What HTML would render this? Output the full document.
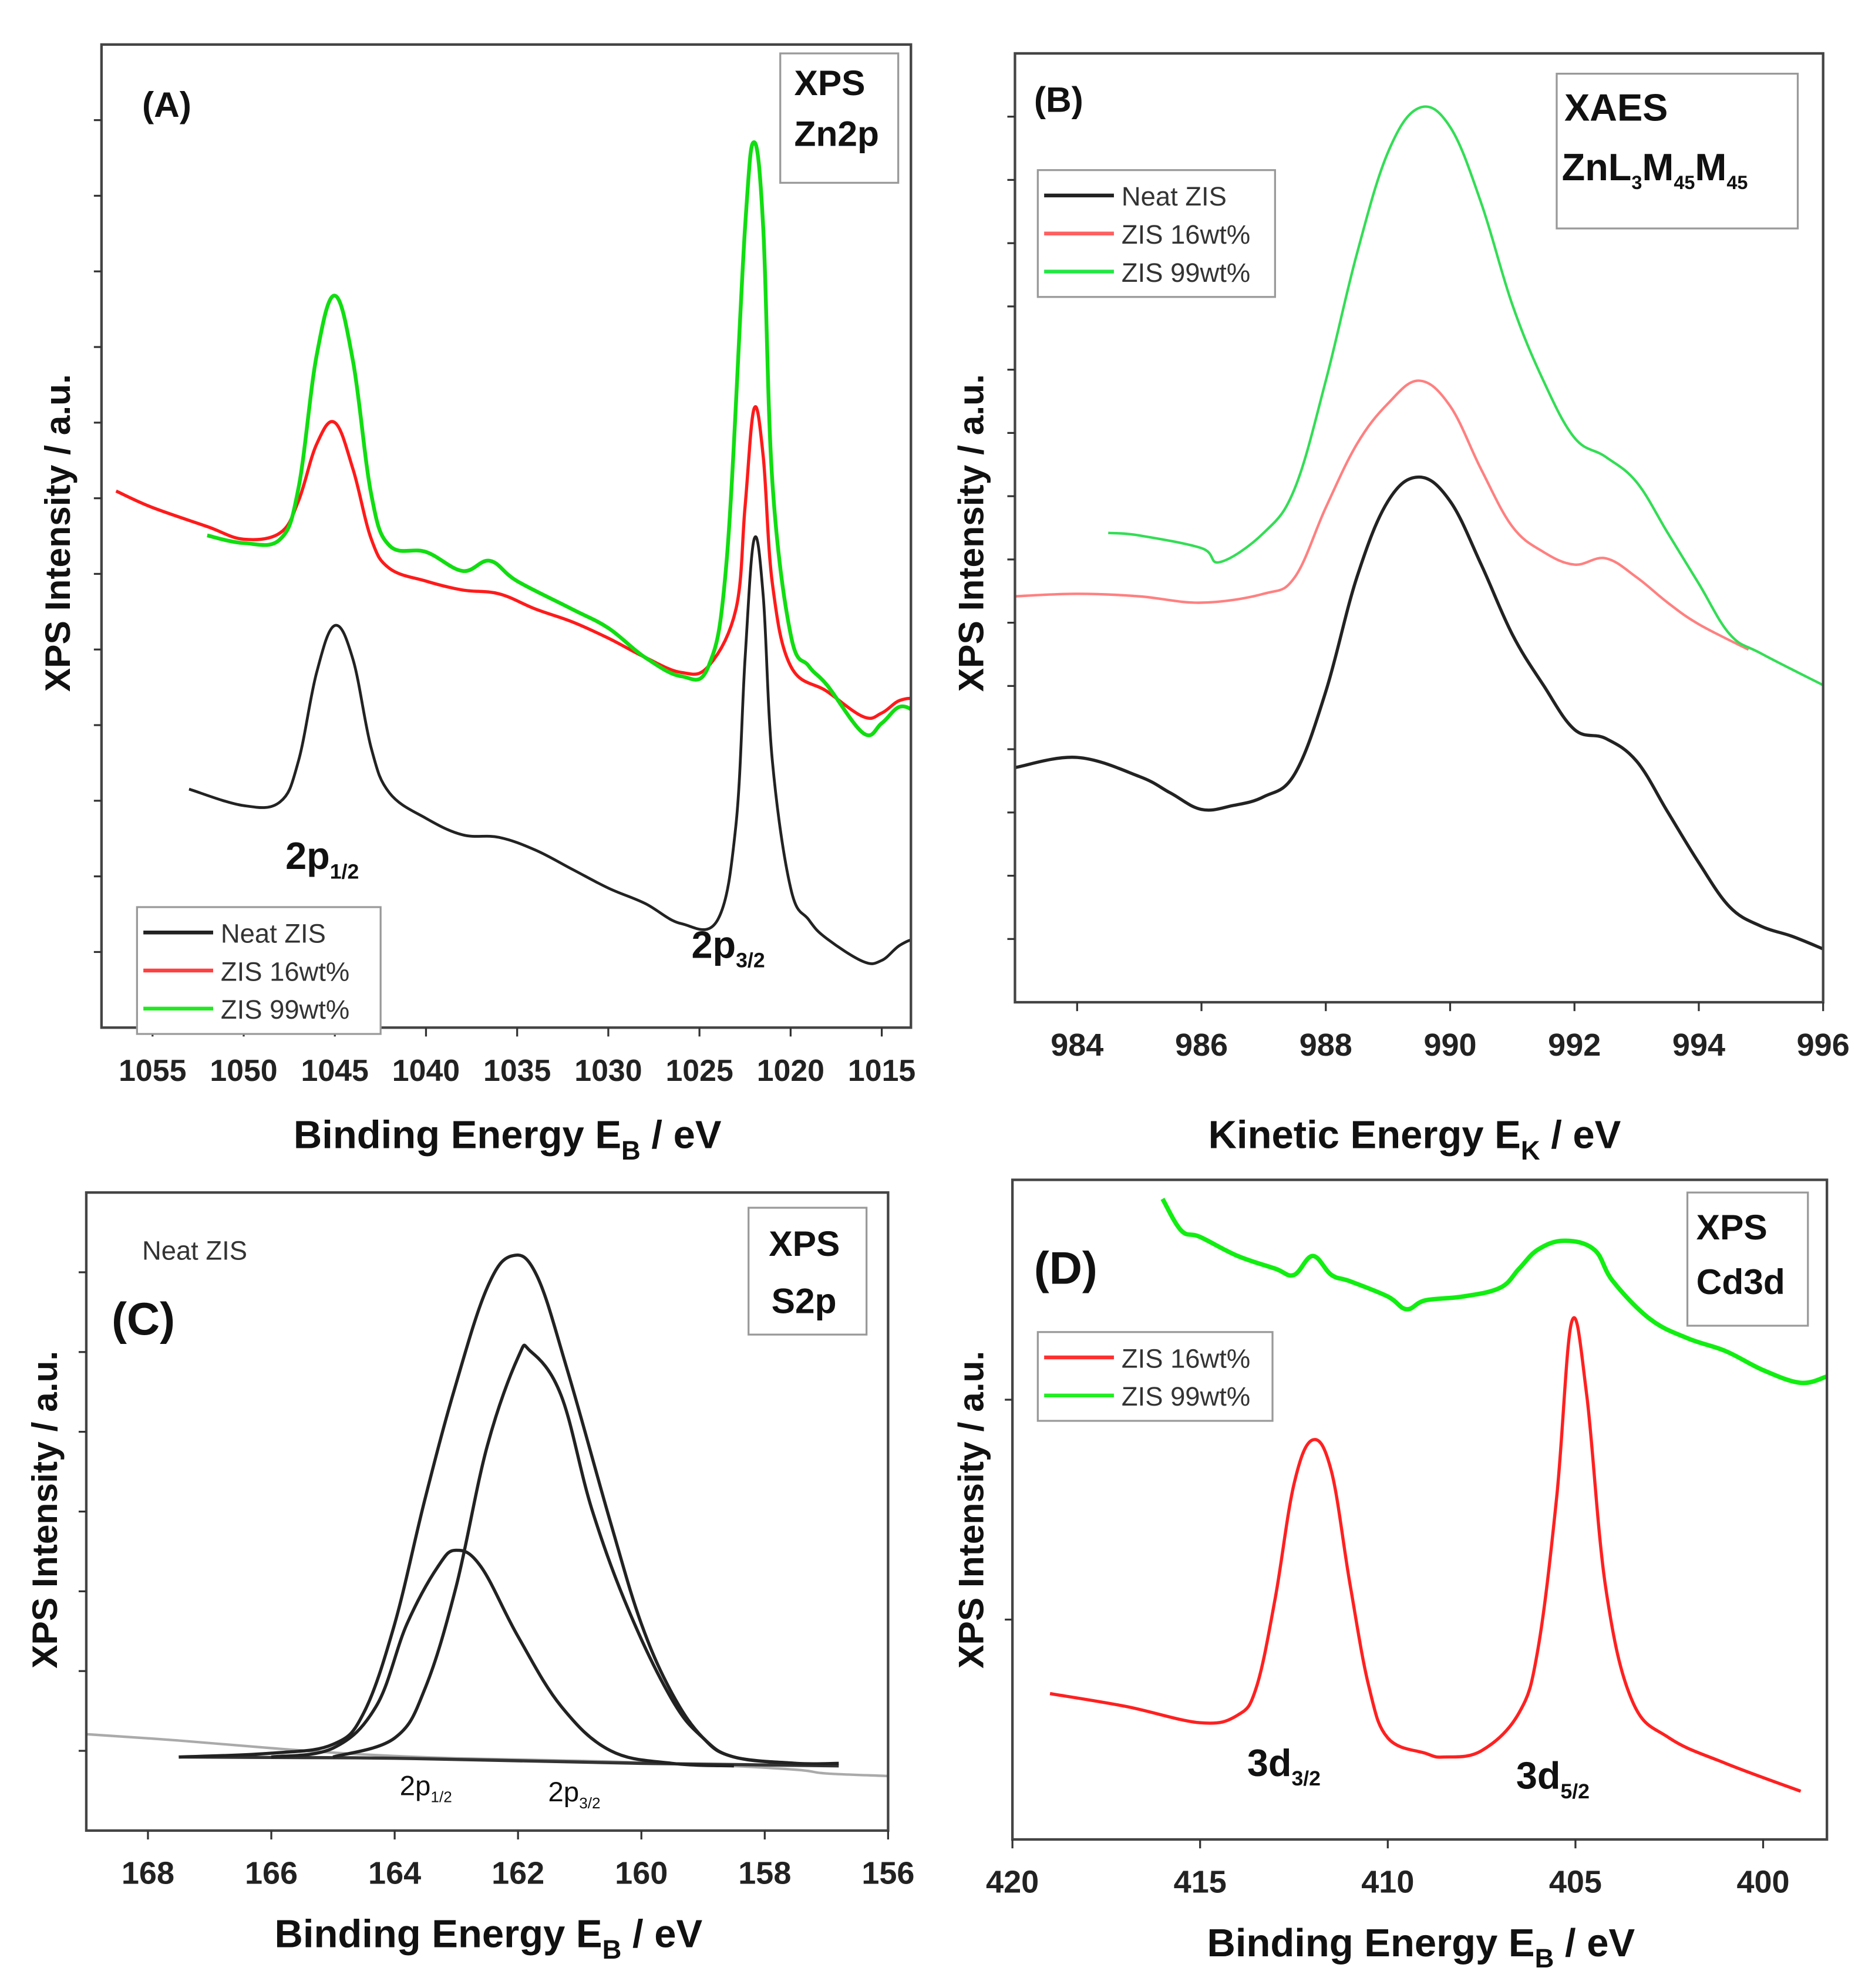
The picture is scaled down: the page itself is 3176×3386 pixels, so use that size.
<!DOCTYPE html>
<html><head><meta charset="utf-8"><style>
html,body{margin:0;padding:0;background:#fff}
svg{display:block}
text{font-family:"Liberation Sans",Arial,sans-serif}
</style></head><body>
<svg id="fig" xmlns="http://www.w3.org/2000/svg" width="3176" height="3386" viewBox="0 0 1470 1567">
<rect width="1470" height="1567" fill="#fff"/>
</svg>
<script>
// ===== Panel A data (binding energy eV, intensity a.u.) =====
const aBlackX=[1053,1050,1048,1047,1046,1045,1044,1043,1042,1040,1038,1036,1034,1032,1030,1028,1026,1024,1023,1022.5,1022,1021.5,1021,1020,1019,1018,1016,1015,1014,1013,1012];
const aBlackY=[188,175,178,210,280,317,290,220,185,165,152,150,140,125,110,98,82,85,160,290,385,340,210,110,85,70,52,53,65,70,65];
const aRedX=[1057,1055,1052,1050,1048,1047,1046,1045,1044,1043,1042,1040,1038,1036,1034,1032,1030,1028,1026,1024.5,1023,1022.5,1022,1021.5,1021,1020,1018,1016,1015,1014,1013,1012];
const aRedY=[423,410,395,385,390,415,460,477,440,385,362,352,345,342,330,320,307,292,280,285,330,410,488,450,350,285,265,245,248,258,258,245];
const aGreenX=[1052,1050,1048,1047,1046,1045,1044,1043,1042,1040,1038,1036.5,1035,1032,1030,1028,1026,1024.5,1023.5,1022.5,1022,1021.5,1021,1020,1019,1018,1016,1015,1014,1013,1012];
const aGreenY=[388,382,385,425,530,577,525,420,380,375,360,368,352,330,315,292,277,285,370,630,698,630,430,310,285,270,232,240,253,248,242];
const aTicks=[1055,1050,1045,1040,1035,1030,1025,1020,1015];
// ===== Panel B data (kinetic energy eV) =====
const bBlackX=[983,984,985,985.5,986,986.5,987,987.5,988,988.5,989,989.5,990,990.5,991,991.5,992,992.5,993,993.5,994,994.5,995,995.5,996];
const bBlackY=[185,193,178,165,152,155,162,180,245,335,395,414,395,345,290,250,215,208,190,150,110,75,60,52,42];
const bRedX=[983,984,985,986,987,987.5,988,988.5,989,989.5,990,990.5,991,991.5,992,992.5,993,993.5,994,994.8];
const bRedY=[320,322,320,315,322,335,390,440,472,490,470,420,375,355,345,350,335,315,298,278];
const bGreenX=[984.5,985,986,986.3,987,987.5,988,988.5,989,989.5,990,990.5,991,991.5,992,992.5,993,993.5,994,994.5,995,996];
const bGreenY=[370,368,358,347,370,405,490,590,670,705,690,630,550,490,445,430,410,370,330,290,275,250];
const bTicks=[984,986,988,990,992,994,996];
// ===== Panel C data =====
const cEnvX=[167.5,166,165,164.5,164,163.5,163,162.5,162.1,161.7,161.2,160.5,160,159.5,159,158.5,157.5,156.8];
const cEnvY=[58,61,68,93,163,263,353,428,453,438,363,243,163,108,73,58,53,53];
const c32X=[165,164,163.5,163,162.5,162,161.8,161.3,160.8,160.2,159.5,159,158.5,157.5];
const c32Y=[58,73,113,193,303,373,378,343,253,173,103,73,58,53];
const c12X=[166,165,164.3,163.8,163.3,163,162.6,162,161.3,160.5,159.5,158.5];
const c12Y=[58,65,98,163,208,221,208,153,98,63,53,51];
const cBaseX=[167.5,164,160,156.8];
const cBaseY=[58,57,53,51];
const cRawX=[169,167.5,166,164.5,163,161,159,157.5,157,156];
const cRawY=[76,71,65,60,57,55,52,48,45,43];
const cTicks=[168,166,164,162,160,158,156];
// ===== Panel D data =====
const dRedX=[419,417,415,414,413.5,413,412.5,412,411.5,411,410.5,410,409,408.5,407.5,406.5,406,405.5,405.1,404.7,404.2,403.5,402.5,401,399];
const dRedY=[115,105,92,98,120,190,280,315,290,200,120,80,68,65,70,100,150,270,408,350,200,110,80,60,38];
const dGreenX=[416,415.5,415,414,413,412.5,412,411.5,411,410,409.5,409,408,407,406.5,406,405.3,404.5,404,403,402,401,400,399,398.3];
const dGreenY=[505,480,475,460,450,445,460,445,440,428,418,425,428,435,450,465,472,465,440,410,395,385,370,360,365];
const dTicks=[420,415,410,405,400];

const NS="http://www.w3.org/2000/svg";
const svg=document.getElementById('fig');
function el(tag,attrs,parent){const e=document.createElementNS(NS,tag);for(const k in attrs)e.setAttribute(k,attrs[k]);(parent||svg).appendChild(e);return e;}
function lin(d0,d1,r0,r1){return v=>r0+(v-d0)/(d1-d0)*(r1-r0);}

function panel(id,box,xDom,yDom,clipId){
  const g=el('g',{});
  
  
  const cp=el('clipPath',{id:clipId},g);
  el('rect',{x:box.l,y:box.t,width:box.r-box.l,height:box.b-box.t},cp);
  return {g,x:lin(xDom[0],xDom[1],box.l,box.r),y:lin(yDom[0],yDom[1],box.b,box.t),box,clipId};
}
function series(P,xs,ys,color,w,name,op){
  const pts=xs.map((x,i)=>[P.x(x),P.y(ys[i])]);
  let d='M'+pts[0][0].toFixed(1)+','+pts[0][1].toFixed(1);
  for(let i=0;i<pts.length-1;i++){
    const p0=pts[Math.max(0,i-1)],p1=pts[i],p2=pts[i+1],p3=pts[Math.min(pts.length-1,i+2)];
    const t=0.18;
    const c1=[p1[0]+(p2[0]-p0[0])*t,p1[1]+(p2[1]-p0[1])*t];
    const c2=[p2[0]-(p3[0]-p1[0])*t,p2[1]-(p3[1]-p1[1])*t];
    d+='C'+c1[0].toFixed(1)+','+c1[1].toFixed(1)+' '+c2[0].toFixed(1)+','+c2[1].toFixed(1)+' '+p2[0].toFixed(1)+','+p2[1].toFixed(1);
  }
  const p=el('path',{d,fill:'none',stroke:color,'stroke-width':w,'stroke-linejoin':'round','clip-path':'url(#'+P.clipId+')',opacity:op||1},P.g);
  
  
}
function frame(P,name){
  const b=P.box;
  const r=el('rect',{x:b.l,y:b.t,width:b.r-b.l,height:b.b-b.t,fill:'none',stroke:'#444','stroke-width':2},P.g);
  
  
}
function xaxis(P,ticks,name,fs){
  const g=el('g',{},P.g);
  
  
  ticks.forEach(t=>{const x=P.x(t);
    el('line',{x1:x,x2:x,y1:P.box.b,y2:P.box.b+7,stroke:'#333','stroke-width':1.5},g);
    const tx=el('text',{x:x,y:P.box.b+42,'font-size':fs||24,'font-weight':'bold','text-anchor':'middle',fill:'#222'},g);
    tx.textContent=t;
  });
}
function yticks(P,n){
  for(let i=1;i<n;i++){const y=P.box.b-(P.box.b-P.box.t)*i/n;
    el('line',{x1:P.box.l-6,x2:P.box.l,y1:y,y2:y,stroke:'#333','stroke-width':1.5},P.g);}
}
function text(parent,x,y,str,fs,name,opts){
  const t=el('text',Object.assign({x,y,'font-size':fs,fill:'#111'},opts||{}),parent);
  t.textContent=str;
  
  
  return t;
}
function xtitle(x,y,main,s,name){
  const t=el('text',{x,y,'font-size':31,'font-weight':'bold','text-anchor':'middle',fill:'#111'},svg);
  
  
  t.innerHTML=main+'<tspan font-size="21" dy="9">'+s+'</tspan><tspan dy="-9"> / eV</tspan>';
}
function sub(parent,x,y,main,s,fs,name,weight){
  const t=el('text',{x,y,'font-size':fs,'font-weight':weight||'bold',fill:'#111'},parent);
  
  
  t.appendChild(document.createTextNode(main));
  const ts=el('tspan',{'font-size':fs*0.55,dy:fs*0.25},t);ts.textContent=s;
  return t;
}
function legend(P,x,y,w,entries,name){
  const g=el('g',{},P.g);
  
  
  el('rect',{x,y,width:w,height:entries.length*30+10,fill:'#fff',stroke:'#999','stroke-width':1.5},g);
  entries.forEach((e,i)=>{const yy=y+20+i*30;
    const ln=el('line',{x1:x+5,x2:x+60,y1:yy,y2:yy,stroke:e[1],'stroke-width':3},g);
    
    
    text(g,x+66,yy+8,e[0],21,'legend-entry',{fill:'#333'});
  });
}
function ylabel(x,y){
  text(svg,x,y,'XPS Intensity / a.u.',28,'y-axis-title',{'font-weight':'bold','text-anchor':'middle',transform:`rotate(-90 ${x} ${y})`});
}
function boxlabel(P,x,y,w,h,name){
  const g=el('g',{},P.g);
  
  
  el('rect',{x,y,width:w,height:h,fill:'#fff',stroke:'#999','stroke-width':1.5},g);
  return g;
}

// ---------- Panel A ----------
const A=panel('panel-a',{l:80,t:35,r:718,b:810},[1057.8,1013.4],[0,775],'cA');
series(A,aBlackX,aBlackY,'#222',2.2,'series-neat-zis');
series(A,aRedX,aRedY,'#ff1a1a',2.5,'series-zis-16wt');
series(A,aGreenX,aGreenY,'#11dd11',3,'series-zis-99wt');
frame(A,'frame-a');yticks(A,13);
xaxis(A,aTicks,'x-axis-a',24);
xtitle(400,905,'Binding Energy  E','B','x-axis-title-a');
ylabel(55,420);
text(A.g,112,92,'(A)',28,'panel-label-a',{'font-weight':'bold'});
let gA=boxlabel(A,615,42,93,102,'title-box-a');
text(gA,626,75,'XPS',28,'title-xps',{'font-weight':'bold'});text(gA,626,115,'Zn2p',28,'title-zn2p',{'font-weight':'bold'});
sub(A.g,225,685,'2p','1/2',30,'peak-label-2p12');
sub(A.g,545,755,'2p','3/2',30,'peak-label-2p32');
legend(A,108,715,192,[['Neat ZIS','#222'],['ZIS 16wt%','#ff4040'],['ZIS 99wt%','#22e822']],'legend-a');

// ---------- Panel B ----------
const B=panel('panel-b',{l:800,t:42,r:1437,b:790},[983,996],[0,748],'cB');
series(B,bBlackX,bBlackY,'#222',2.5,'series-neat-zis');
series(B,bRedX,bRedY,'#ff8080',2,'series-zis-16wt');
series(B,bGreenX,bGreenY,'#33dd55',2,'series-zis-99wt');
frame(B,'frame-b');yticks(B,15);
xaxis(B,bTicks,'x-axis-b',25);
xtitle(1115,905,'Kinetic Energy  E','K','x-axis-title-b');
ylabel(775,420);
text(B.g,815,88,'(B)',28,'panel-label-b',{'font-weight':'bold'});
let gB=boxlabel(B,1227,58,190,122,'title-box-b');
text(gB,1233,95,'XAES',30,'title-xaes',{'font-weight':'bold'});
const zt=el('text',{x:1231,y:142,'font-size':30,'font-weight':'bold',fill:'#111'},gB);

zt.innerHTML='ZnL<tspan font-size="15" dy="7">3</tspan><tspan dy="-7">M</tspan><tspan font-size="15" dy="7">45</tspan><tspan dy="-7">M</tspan><tspan font-size="15" dy="7">45</tspan>';
legend(B,818,134,187,[['Neat ZIS','#222'],['ZIS 16wt%','#ff6060'],['ZIS 99wt%','#22e844']],'legend-b');

// ---------- Panel C ----------
const C=panel('panel-c',{l:68,t:940,r:700,b:1443},[169,156],[0,503],'cC');
series(C,cRawX,cRawY,'#aaa',2,'series-raw');
series(C,cBaseX,cBaseY,'#333',2.5,'series-baseline');
series(C,c12X,c12Y,'#222',2.5,'series-2p12-fit');
series(C,c32X,c32Y,'#222',2.5,'series-2p32-fit');
series(C,cEnvX,cEnvY,'#222',2.5,'series-envelope');
frame(C,'frame-c');yticks(C,8);
xaxis(C,cTicks,'x-axis-c',25);
xtitle(385,1535,'Binding Energy  E','B','x-axis-title-c');
ylabel(45,1190);
text(C.g,112,993,'Neat ZIS',21,'sample-label-c',{fill:'#333'});
text(C.g,88,1052,'(C)',36,'panel-label-c',{'font-weight':'bold'});
let gC=boxlabel(C,590,952,93,100,'title-box-c');
text(gC,606,990,'XPS',28,'title-xps',{'font-weight':'bold'});text(gC,608,1035,'S2p',28,'title-s2p',{'font-weight':'bold'});
sub(C.g,315,1415,'2p','1/2',22,'peak-label-2p12','normal');
sub(C.g,432,1420,'2p','3/2',22,'peak-label-2p32','normal');

// ---------- Panel D ----------
const D=panel('panel-d',{l:798,t:930,r:1440,b:1450},[420,398.3],[0,520],'cD');
series(D,dGreenX,dGreenY,'#11ee11',3.5,'series-zis-99wt');
series(D,dRedX,dRedY,'#ff2020',2.5,'series-zis-16wt');
frame(D,'frame-d');yticks(D,3);
xaxis(D,dTicks,'x-axis-d',25);
xtitle(1120,1542,'Binding Energy  E','B','x-axis-title-d');
ylabel(775,1190);
text(D.g,815,1012,'(D)',36,'panel-label-d',{'font-weight':'bold'});
let gD=boxlabel(D,1330,940,95,105,'title-box-d');
text(gD,1337,977,'XPS',28,'title-xps',{'font-weight':'bold'});text(gD,1337,1020,'Cd3d',28,'title-cd3d',{'font-weight':'bold'});
sub(D.g,983,1400,'3d','3/2',30,'peak-label-3d32');
sub(D.g,1195,1410,'3d','5/2',30,'peak-label-3d52');
legend(D,818,1050,185,[['ZIS 16wt%','#ff3030'],['ZIS 99wt%','#22ee22']],'legend-d');
</script>
</body></html>
